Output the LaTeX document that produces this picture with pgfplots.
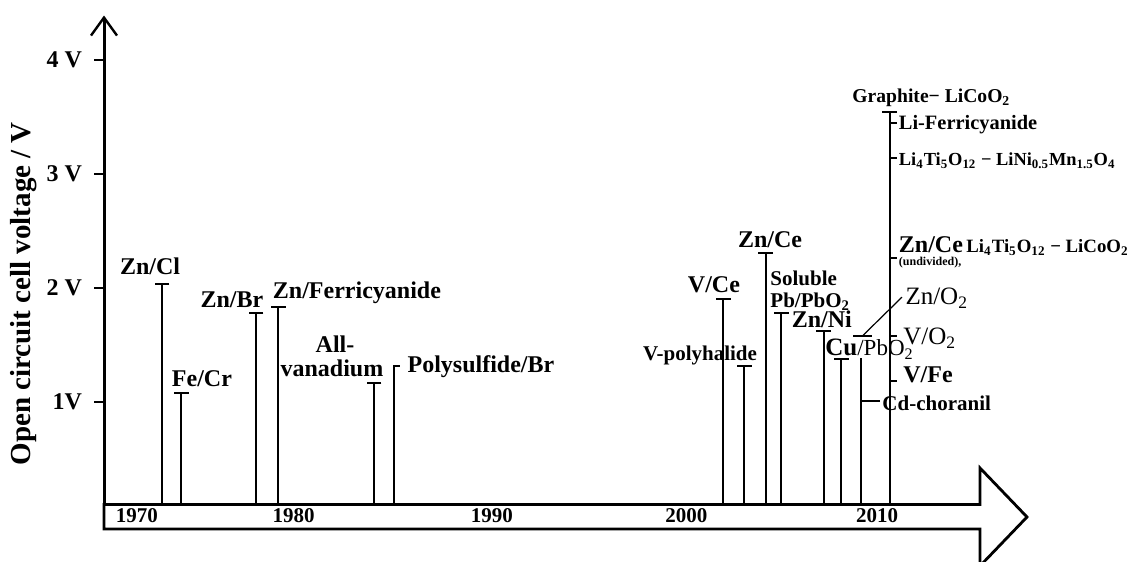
\documentclass[border=0pt]{standalone}
\usepackage{fontspec}
\setmainfont{Liberation Serif}
\usepackage{pgfplots}
\usepackage{pgfplotstable}
\pgfplotsset{compat=1.18}
\usetikzlibrary{arrows.meta}

\newcommand{\sub}[1]{\textsubscript{#1}}
\newcommand{\fbig}{\fontsize{12}{12}\selectfont\bfseries}
\newcommand{\fmed}{\fontsize{10.5}{11}\selectfont\bfseries}

% stems with a centred cap: year, top voltage
\pgfplotstableread{
x y
1973.0 2.035
1974.0 1.079
1977.85 1.78
1979.0 1.833
1983.95 1.167
2002.0 1.904
2003.1 1.316
2004.2 2.307
2005.0 1.78
2007.2 1.625
2008.1 1.377
2010.6 3.544
}\stems

% short branches (right-hand ticks)
\pgfplotstableread{
x y
2010.6 3.45
2011.0 3.45
nan nan
2010.6 3.14
2011.0 3.14
nan nan
2010.6 2.26
2011.0 2.26
nan nan
2010.6 1.575
2011.0 1.575
nan nan
2010.6 1.18
2011.0 1.18
nan nan
2009.1 1.01
2010.1 1.01
}\branches

\begin{document}
\begin{tikzpicture}
\begin{axis}[
  scale only axis, width=483.75pt, height=244.53pt,
  xmin=1970, xmax=2020, ymin=0.1, ymax=4.39,
  axis x line=none,
  axis y line=left,
  axis line style={line width=1.5pt, -{Straight Barb[length=9pt,width=13pt,line width=1.2pt]}},
  ytick={1,2,3,4},
  yticklabels={1V,2 V,3 V,4 V},
  yticklabel style={font=\fbig, xshift=-2.5pt},
  tick align=outside, major tick length=5pt,
  ytick style={line width=1.3pt, black},
  unbounded coords=jump,
  clip=true, clip mode=individual,
  ylabel={Open circuit cell voltage / V},
  ylabel style={font=\fontsize{14.5}{15}\selectfont\bfseries, at={(axis description cs:-0.0827,0.431)}, anchor=center},
]
% stems with caps
\addplot[ycomb, black, line width=1pt, mark=-, mark size=3.7pt, mark options={line width=1pt}] table {\stems};
% 2009 stem (no cap) and polysulfide stem (right-hand cap)
\addplot[black, line width=1pt] coordinates {(2009.1,0.1) (2009.1,1.386)};
\addplot[black, line width=1pt] coordinates {(1985.0,0.1) (1985.0,1.318) (1985.3,1.318)};
% branches
\addplot[black, line width=1pt] table {\branches};
% floating cap and pointer to Zn/O2
\addplot[black, line width=1pt] coordinates {(2008.71,1.575) (2009.69,1.575)};
\addplot[black, line width=0.6pt] coordinates {(2009.17,1.575) (2011.24,1.92)};

% timeline arrow
\draw[line width=1.4pt, line join=miter, black]
  (axis cs:1970,0.1) -- (axis cs:2015.27,0.1) -- (axis cs:2015.27,0.421)
  -- (axis cs:2017.70,-0.009) -- (axis cs:2015.27,-0.4386) -- (axis cs:2015.27,-0.114)
  -- (axis cs:1970,-0.114) -- cycle;
% years
\begin{scope}[every node/.style={font=\fmed, inner sep=0, anchor=base}]
\node at (axis cs:1971.7,-0.061) {1970};
\node at (axis cs:1979.8,-0.061) {1980};
\node at (axis cs:1990.05,-0.061) {1990};
\node at (axis cs:2000.1,-0.061) {2000};
\node at (axis cs:2009.95,-0.061) {2010};
\end{scope}

% labels
\begin{scope}[every node/.style={inner sep=0, anchor=base}]
\node[font=\fbig] at (axis cs:1972.38,2.114) {Zn/Cl};
\node[font=\fbig] at (axis cs:1975.06,1.132) {Fe/Cr};
\node[font=\fbig] at (axis cs:1976.61,1.833) {Zn/Br};
\node[font=\fbig] at (axis cs:1983.07,1.904) {Zn/Ferricyanide};
\node[font=\fbig] at (axis cs:1981.94,1.43) {All-};
\node[font=\fbig] at (axis cs:1981.78,1.222) {vanadium};
\node[font=\fbig] at (axis cs:1989.48,1.257) {Polysulfide/Br};
\node[font=\fbig] at (axis cs:2001.52,1.956) {V/Ce};
\node[font=\fmed] at (axis cs:2000.80,1.36) {V-polyhalide};
\node[font=\fbig] at (axis cs:2004.42,2.351) {Zn/Ce};
\node[font=\fmed, anchor=base west] at (axis cs:2004.42,2.026) {Soluble};
\node[font=\fmed, anchor=base west] at (axis cs:2004.42,1.833) {Pb/PbO\sub{2}};
\node[font=\fbig] at (axis cs:2007.1,1.649) {Zn/Ni};
\node[anchor=base west] at (axis cs:2007.26,1.404) {{\fontsize{12.5}{13}\selectfont\bfseries Cu}{\fontsize{11.5}{12}\selectfont /PbO\sub{2}}};
\node[anchor=base west, font=\fontsize{12.5}{13}\selectfont] at (axis cs:2011.4,1.851) {Zn/O\sub{2}};
\node[anchor=base west, font=\fontsize{12.5}{13}\selectfont] at (axis cs:2011.29,1.5) {V/O\sub{2}};
\node[anchor=base west, font=\fbig] at (axis cs:2011.29,1.175) {V/Fe};
\node[anchor=base west, font=\fmed] at (axis cs:2010.21,0.921) {Cd-choranil};
\node[anchor=base west, font=\fontsize{9.8}{10}\selectfont\bfseries] at (axis cs:2008.66,3.623) {Graphite\textminus\ LiCoO\sub{2}};
\node[anchor=base west, font=\fontsize{10.2}{11}\selectfont\bfseries] at (axis cs:2011.06,3.386) {Li-Ferricyanide};
\node[anchor=base west, font=\fontsize{9.2}{10}\selectfont\bfseries] at (axis cs:2011.06,3.07) {Li\sub{4}Ti\sub{5}O\sub{12} \textminus\ LiNi\sub{0.5}Mn\sub{1.5}O\sub{4}};
\node[anchor=base west, font=\fbig] at (axis cs:2011.06,2.307) {Zn/Ce};
\node[anchor=base west, font=\fontsize{6}{6}\selectfont\bfseries] at (axis cs:2011.06,2.20) {(undivided),};
\node[anchor=base west, font=\fontsize{9.4}{10}\selectfont\bfseries] at (axis cs:2014.55,2.307) {Li\sub{4}Ti\sub{5}O\sub{12} \textminus\ LiCoO\sub{2}};
\end{scope}

\coordinate (bbA) at (axis cs:1964.625,-0.4035);
\coordinate (bbB) at (axis cs:2023.54,4.526);
\end{axis}
\pgfresetboundingbox
\useasboundingbox (bbA) rectangle (bbB);
\end{tikzpicture}
\end{document}
